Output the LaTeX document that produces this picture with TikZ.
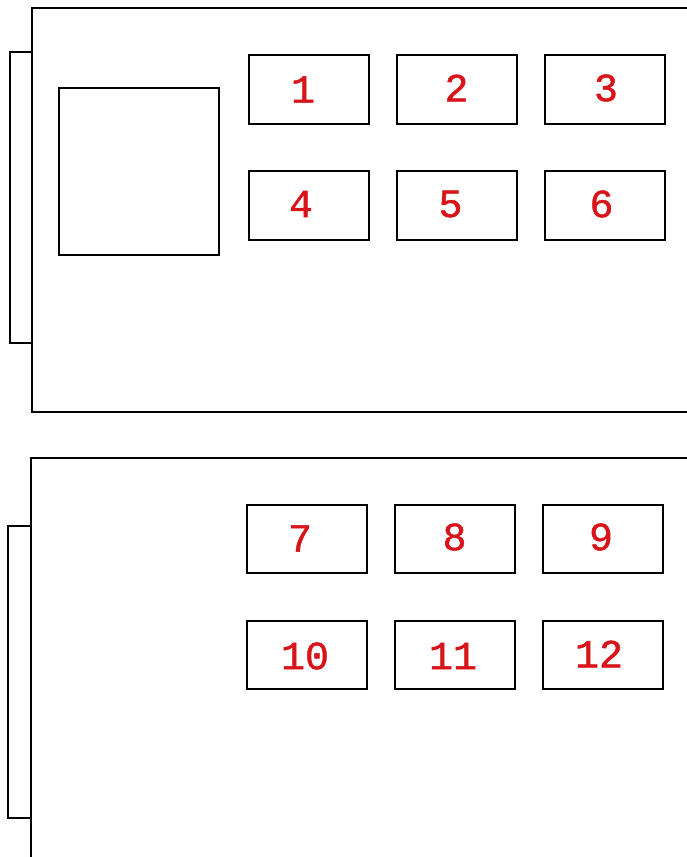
\documentclass[tikz,border=0pt]{standalone}
\usepackage{fontspec}
\newfontfamily\numfont[FakeBold=1.2]{Liberation Mono}
\definecolor{lbl}{RGB}{215,20,25}
\begin{document}
\begin{tikzpicture}[x=1pt,y=-1pt,line width=1.2pt,
  slot/.style={draw,minimum width=120pt,minimum height=69pt,inner sep=0pt,outer sep=0pt},
  num/.style={text=lbl,inner sep=0pt,font=\numfont\fontsize{40}{40}\selectfont},
  frame/.style={draw,line width=1.2pt}]
\useasboundingbox (0,0) rectangle (687,857);
% top panel
\draw[frame] (687,8) -- (32,8) -- (32,412) -- (687,412);
\draw[frame] (32,52) -- (10,52) -- (10,343) -- (32,343);
\node[draw,minimum width=160pt,minimum height=167pt,inner sep=0pt] (sq) at (139,171.5) {};
\node[slot] (b1) at (309,89.5) {}; \node[num] (t1) at (303,89.5) {1};
\node[slot] (b2) at (457,89.5) {}; \node[num] (t2) at (456.5,88) {2};
\node[slot] (b3) at (605,89.5) {}; \node[num] (t3) at (606,88) {3};
\node[slot] (b4) at (309,205.5) {}; \node[num] (t4) at (301,204) {4};
\node[slot] (b5) at (457,205.5) {}; \node[num] (t5) at (450.5,204) {5};
\node[slot] (b6) at (605,205.5) {}; \node[num] (t6) at (601.5,204) {6};
% bottom panel
\draw[frame] (687,458) -- (31,458) -- (31,857);
\draw[frame] (31,526) -- (8,526) -- (8,818) -- (31,818);
\node[slot,minimum height=68pt] (b7) at (307,539) {}; \node[num] (t7) at (300,538.5) {7};
\node[slot,minimum height=68pt] (b8) at (455,539) {}; \node[num] (t8) at (454.5,537) {8};
\node[slot,minimum height=68pt] (b9) at (603,539) {}; \node[num] (t9) at (601,537) {9};
\node[slot,minimum height=68pt] (b10) at (307,655) {}; \node[num] (t10) at (305,656) {10};
\node[slot,minimum height=68pt] (b11) at (455,655) {}; \node[num] (t11) at (453,656) {11};
\node[slot,minimum height=68pt] (b12) at (603,655) {}; \node[num] (t12) at (599,654) {12};
\end{tikzpicture}
\end{document}
